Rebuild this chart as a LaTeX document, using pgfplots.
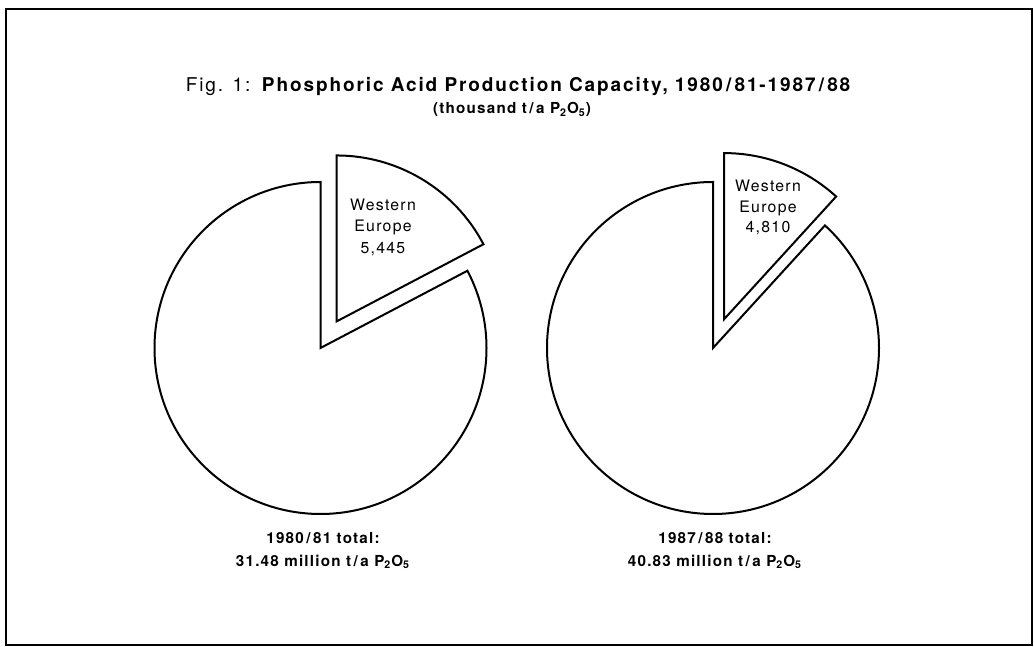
\documentclass[border=0pt]{standalone}
\usepackage{pgfplots}
\pgfplotsset{compat=1.18}
\usepackage{fontspec}
\setmainfont{TeX Gyre Heros}[LetterSpace=8]
\newfontfamily\titlefont{TeX Gyre Heros}[LetterSpace=10]
\newcommand\sub[1]{\textsubscript{#1}}
% data: totals in million t/a P2O5, Western Europe in million t/a (5,445 and 4,810 thousand)
\def\totA{31.48}\def\weA{5.445}
\def\totB{40.83}\def\weB{4.810}
\def\R{166}      % pie radius (axis units)
\def\Rpt{83pt}   % same radius in pt (x=0.5pt)
\def\expl{31}    % explode distance
\pgfmathsetmacro\angA{\weA/\totA*360}
\pgfmathsetmacro\angB{\weB/\totB*360}
\def\cxA{320.5}\def\cyA{299}
\def\cxB{713}\def\cyB{299}
\pgfmathsetmacro\endA{450-\angA}
\pgfmathsetmacro\endB{450-\angB}
\pgfmathsetmacro\sendA{90-\angA}
\pgfmathsetmacro\sendB{90-\angB}
\pgfmathsetmacro\exA{\cxA+\expl*cos(90-\angA/2)}
\pgfmathsetmacro\eyA{\cyA+\expl*sin(90-\angA/2)}
\pgfmathsetmacro\exB{\cxB+\expl*cos(90-\angB/2)}
\pgfmathsetmacro\eyB{\cyB+\expl*sin(90-\angB/2)}
\pgfmathsetmacro\topA{\cyA+\R}
\pgfmathsetmacro\topB{\cyB+\R}
\pgfmathsetmacro\etopA{\eyA+\R}
\pgfmathsetmacro\etopB{\eyB+\R}
\begin{document}
\begin{tikzpicture}
\begin{axis}[
  x=0.5pt, y=0.5pt,
  xmin=0, xmax=1034, ymin=0, ymax=647,
  hide axis, clip=false,
]
\path (axis cs:0,0) (axis cs:1034,647);
% frame
\draw[line width=1pt] (axis cs:6,638) rectangle (axis cs:1032,2);
% left pie
\draw[line width=1pt, fill=white] (axis cs:\cxA,\cyA) -- (axis cs:\cxA,\topA)
   arc[start angle=90, end angle=\endA, radius=\Rpt] -- cycle;
\draw[line width=1pt, fill=white] (axis cs:\exA,\eyA) -- (axis cs:\exA,\etopA)
   arc[start angle=90, end angle=\sendA, radius=\Rpt] -- cycle;
% right pie
\draw[line width=1pt, fill=white] (axis cs:\cxB,\cyB) -- (axis cs:\cxB,\topB)
   arc[start angle=90, end angle=\endB, radius=\Rpt] -- cycle;
\draw[line width=1pt, fill=white] (axis cs:\exB,\eyB) -- (axis cs:\exB,\etopB)
   arc[start angle=90, end angle=\sendB, radius=\Rpt] -- cycle;
% titles
\node[anchor=base, inner sep=0] at (axis cs:519,555.5)
  {\titlefont\fontsize{9.5}{11}\selectfont Fig. 1: \textbf{Phosphoric Acid Production Capacity, 1980\,/\,81-1987\,/\,88}};
\node[anchor=base, inner sep=0] at (axis cs:512,533)
  {\fontsize{7.6}{9}\selectfont\bfseries (thousand t\,/\,a P\sub{2}O\sub{5})};
% slice labels
\node[anchor=base, inner sep=0, font=\fontsize{7.9}{10.5}\selectfont] at (axis cs:383,436) {Western};
\node[anchor=base, inner sep=0, font=\fontsize{7.9}{10.5}\selectfont] at (axis cs:383,415) {Europe};
\node[anchor=base, inner sep=0, font=\fontsize{7.9}{10.5}\selectfont] at (axis cs:383,393.5) {5,445};
\node[anchor=base, inner sep=0, font=\fontsize{7.9}{10.5}\selectfont] at (axis cs:768,455.5) {Western};
\node[anchor=base, inner sep=0, font=\fontsize{7.9}{10.5}\selectfont] at (axis cs:768,434.5) {Europe};
\node[anchor=base, inner sep=0, font=\fontsize{7.9}{10.5}\selectfont] at (axis cs:768,414.5) {4,810};
% totals
\node[anchor=base, inner sep=0, font=\fontsize{7.6}{9}\selectfont\bfseries] at (axis cs:323,103.5) {1980\,/\,81 total:};
\node[anchor=base, inner sep=0, font=\fontsize{7.6}{9}\selectfont\bfseries] at (axis cs:323,80.5) {31.48 million t\,/\,a P\sub{2}O\sub{5}};
\node[anchor=base, inner sep=0, font=\fontsize{7.6}{9}\selectfont\bfseries] at (axis cs:715,103.5) {1987\,/\,88 total:};
\node[anchor=base, inner sep=0, font=\fontsize{7.6}{9}\selectfont\bfseries] at (axis cs:715,80.5) {40.83 million t\,/\,a P\sub{2}O\sub{5}};
\end{axis}
\end{tikzpicture}
\end{document}
